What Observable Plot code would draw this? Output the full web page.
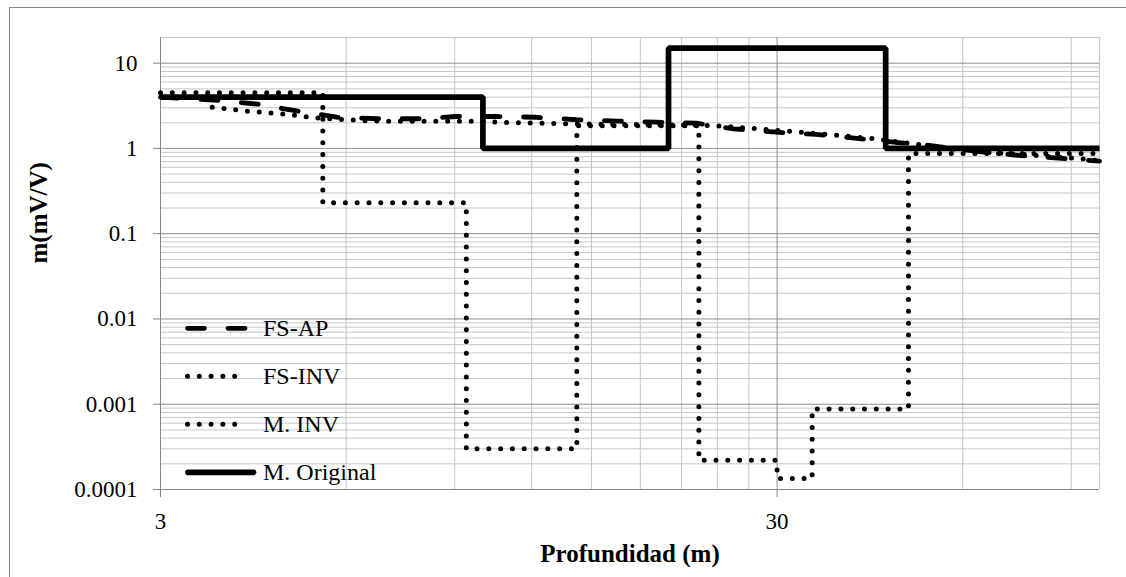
<!DOCTYPE html>
<html><head><meta charset="utf-8">
<script src="https://cdn.jsdelivr.net/npm/d3@7"></script>
<script src="https://cdn.jsdelivr.net/npm/@observablehq/plot@0.6"></script>
<style>
html,body{margin:0;padding:0;background:#fff;overflow:hidden;}
#wrap{position:relative;width:1126px;height:577px;overflow:hidden;}
#border{position:absolute;left:9px;top:7px;width:1300px;height:800px;border:1px solid #8a8a8a;box-sizing:border-box;pointer-events:none;}
#legend{position:absolute;left:0;top:0;pointer-events:none;}
</style></head><body><div id="wrap"><div id="border"></div></div>
<script>
// ---- data ----
const seriesNames = ["FS-AP", "FS-INV", "M. INV", "M. Original"];

// FS-AP (apparent, dashed)
const fsApDepth = [3.0, 3.75, 4.32, 5.02, 5.82, 6.76, 7.85, 9.04, 10.5, 12.2, 14.2, 16.5, 19.1, 22.2, 25.5, 29.9, 34.7, 39.7, 46.7, 51.5, 54.8, 63.6, 73.8, 85.8, 100];
const fsApValue = [4.0, 3.64, 3.3, 2.73, 2.32, 2.23, 2.23, 2.37, 2.37, 2.32, 2.17, 2.09, 2.03, 1.98, 1.70, 1.55, 1.46, 1.33, 1.18, 1.11, 1.05, 0.92, 0.83, 0.77, 0.71];

// FS-INV (dotted)
const fsInvDepth = [3.64, 3.97, 4.15, 4.72, 5.38, 6.37, 7.25, 8.26, 9.81, 11.2, 13.3, 15.5, 18.6, 23.5, 27.9, 31.7, 37.8, 43.0, 49.0, 56.9, 66.0, 76.8, 89.1, 100];
const fsInvValue = [3.04, 2.84, 2.73, 2.55, 2.28, 2.12, 2.08, 2.08, 2.08, 2.0, 1.95, 1.92, 1.9, 1.86, 1.7, 1.58, 1.42, 1.3, 1.15, 1.0, 0.9, 0.84, 0.78, 0.72];

// M. INV (layered model, dotted steps): layer boundaries and values
const mInvBounds = [3, 5.5, 9.4, 14.2, 22.4, 30, 34.2, 49, 100];
const mInvValue  = [4.5, 0.23, 0.0003, 1.85, 0.00022, 0.000135, 0.00088, 0.87];

// M. Original (layered model, solid steps)
const mOrigBounds = [3, 10, 20, 45, 100];
const mOrigValue  = [4, 1, 15, 1];

// axes
const xDomain = [3, 100];
const yDomain = [0.0001, 20];
const xTicks = [3, 30];
const xTickLabels = ["3", "30"];
const yTicks = [0.0001, 0.001, 0.01, 0.1, 1, 10];
const yTickLabels = ["0.0001", "0.001", "0.01", "0.1", "1", "10"];
const xTitle = "Profundidad (m)";
const yTitle = "m(mV/V)";

// ---- build ----
const pts = (xs, ys) => xs.map((x, i) => ({x, y: ys[i]}));
const steps = (b, v) => {
  const out = v.map((y, i) => ({x: b[i], y}));
  out.push({x: b[b.length - 1], y: v[v.length - 1]});
  return out;
};
const fsAp = pts(fsApDepth, fsApValue);
const fsInv = pts(fsInvDepth, fsInvValue);
const mInv = steps(mInvBounds, mInvValue);
const mOrig = steps(mOrigBounds, mOrigValue);

// gridlines
const minorY = [];
yTicks.forEach(t => { for (let k = 2; k <= 9; k++) { const v = t * k; if (v <= yDomain[1] + 1e-9) minorY.push(v); } });
minorY.push(20);
const minorX = [];
[3, 30].forEach(t => { for (let k = 2; k <= 9; k++) { const v = t * k; if (v < xDomain[1]) minorX.push(v); } });

const styles = {
  "FS-AP":       {stroke: "black", strokeWidth: 4.8, strokeDasharray: "17,23.5", strokeLinecap: "round", strokeLinejoin: "round"},
  "FS-INV":      {stroke: "black", strokeWidth: 5, strokeDasharray: "0,11.8", strokeLinecap: "round", strokeLinejoin: "round"},
  "M. INV":      {stroke: "black", strokeWidth: 5, strokeDasharray: "0,11.8", strokeLinecap: "round", strokeLinejoin: "round"},
  "M. Original": {stroke: "black", strokeWidth: 5.7, strokeLinecap: "butt", strokeLinejoin: "miter"}
};

const font = "'Liberation Serif', 'Times New Roman', serif";

const chart = Plot.plot({
  width: 1126, height: 577,
  marginLeft: 160, marginRight: 27, marginTop: 37, marginBottom: 88,
  style: {fontFamily: font, fontSize: "23px", background: "transparent", color: "black"},
  x: {type: "log", domain: xDomain},
  y: {type: "log", domain: yDomain},
  marks: [
    Plot.ruleY(minorY, {stroke: "#c6c6c6", strokeWidth: 1}),
    Plot.ruleX(minorX, {stroke: "#c6c6c6", strokeWidth: 1}),
    Plot.ruleX([xDomain[1]], {stroke: "#c6c6c6", strokeWidth: 1}),
    Plot.ruleY(yTicks.slice(1), {stroke: "#8e8e8e", strokeWidth: 1}),
    Plot.ruleX([30], {stroke: "#8e8e8e", strokeWidth: 1}),
    Plot.ruleX([xDomain[0]], {stroke: "#868686", strokeWidth: 1}),
    Plot.ruleY([yDomain[0]], {stroke: "#868686", strokeWidth: 1}),
    Plot.axisY({ticks: yTicks, tickFormat: d => yTickLabels[yTicks.findIndex(t => Math.abs(t - d) < d * 1e-6)], tickSize: 7, tickPadding: 16, stroke: "#868686", fill: "black", label: null, fontSize: 23}),
    Plot.axisX({ticks: xTicks, tickFormat: d => xTickLabels[xTicks.indexOf(d)], tickSize: 8, tickPadding: 15, stroke: "#868686", fill: "black", label: null, fontSize: 23}),
    Plot.line(fsAp, {x: "x", y: "y", ...styles["FS-AP"]}),
    Plot.line(fsInv, {x: "x", y: "y", ...styles["FS-INV"]}),
    Plot.line(mInv, {x: "x", y: "y", curve: "step-after", ...styles["M. INV"]}),
    Plot.line(mOrig, {x: "x", y: "y", curve: "step-after", ...styles["M. Original"]}),
    Plot.text([yTitle], {text: d => d, frameAnchor: "left", dx: -122, rotate: -90, fontWeight: "bold", fontSize: 25, fill: "black"}),
    Plot.text([xTitle], {text: d => d, frameAnchor: "bottom", dy: 72, fontWeight: "bold", fontSize: 25, fill: "black"})
  ]
});
document.getElementById("wrap").appendChild(chart);

// ---- legend (overlay, inside plot area) ----
const lg = d3.create("svg").attr("id", "legend").attr("width", 1126).attr("height", 577);
seriesNames.forEach((name, i) => {
  const cy = 328.3 + i * 48;
  const s = styles[name];
  const solid = !s.strokeDasharray;
  lg.append("line")
    .attr("x1", solid ? 188 : 187.5).attr("x2", solid ? 253.5 : 245.5)
    .attr("y1", cy).attr("y2", cy)
    .attr("stroke", s.stroke).attr("stroke-width", s.strokeWidth)
    .attr("stroke-dasharray", s.strokeDasharray || null)
    .attr("stroke-linecap", "round");
  lg.append("text").attr("x", 263).attr("y", cy + 8)
    .attr("font-family", font).attr("font-size", 24).attr("fill", "black")
    .text(name);
});
document.getElementById("wrap").appendChild(lg.node());
</script>
</body></html>
